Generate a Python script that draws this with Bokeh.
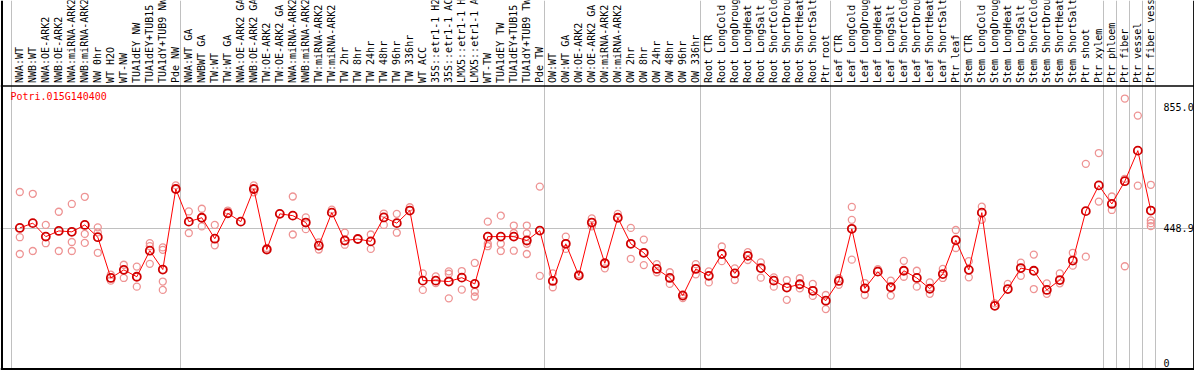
from math import pi
from bokeh.plotting import figure
from bokeh.models import Range1d, Grid, FixedTicker, Span
from bokeh.core.properties import value
from bokeh.embed import file_html
from bokeh.resources import INLINE

gene = "Potri.015G140400"

categories = [
    "NWA:WT", "NWB:WT", "NWA:OE-ARK2", "NWB:OE-ARK2", "NWA:miRNA-ARK2", "NWB:miRNA-ARK2",
    "NW 0hr", "WT H2O", "WT-NW", "TUA1dEY NW", "TUA1dEY+TUB15 NW", "TUA1dY+TUB9 NW", "Pde NW",
    "NWA:WT GA", "NWBWT GA", "TW:WT", "TW:WT GA", "NWA:OE-ARK2 GA", "NWB:OE-ARK2 GA",
    "TW:OE-ARK2", "TW:OE-ARK2 GA", "NWA:miRNA-ARK2 GA", "NWB:miRNA-ARK2 GA", "TW:miRNA-ARK2",
    "TW:miRNA-ARK2 GA", "TW 2hr", "TW 8hr", "TW 24hr", "TW 48hr", "TW 96hr", "TW 336hr",
    "WT ACC", "35S::etr1-1 H2O", "35S::etr1-1 ACC", "LMX5::etr1-1 H2O", "LMX5::etr1-1 ACC",
    "WT-TW", "TUA1dEY TW", "TUA1dEY+TUB15 TW", "TUA1dY+TUB9 TW", "Pde TW",
    "OW:WT", "OW:WT GA", "OW:OE-ARK2", "OW:OE-ARK2 GA", "OW:miRNA-ARK2", "OW:miRNA-ARK2 GA",
    "OW 2hr", "OW 8hr", "OW 24hr", "OW 48hr", "OW 96hr", "OW 336hr",
    "Root CTR", "Root LongCold", "Root LongDrought", "Root LongHeat", "Root LongSalt",
    "Root ShortCold", "Root ShortDrought", "Root ShortHeat", "Root ShortSalt", "Ptr root",
    "Leaf CTR", "Leaf LongCold", "Leaf LongDrought", "Leaf LongHeat", "Leaf LongSalt",
    "Leaf ShortCold", "Leaf ShortDrought", "Leaf ShortHeat", "Leaf ShortSalt", "Ptr leaf",
    "Stem CTR", "Stem LongCold", "Stem LongDrought", "Stem LongHeat", "Stem LongSalt",
    "Stem ShortCold", "Stem ShortDrought", "Stem ShortHeat", "Stem ShortSalt", "Ptr shoot",
    "Ptr xylem", "Ptr phloem", "Ptr fiber", "Ptr vessel", "Ptr fiber vessel",
]

means = [
    450, 466, 421, 440, 437, 460, 419, 283, 310, 287, 374, 311, 580,
    471, 484, 414, 499, 471, 580, 378, 497, 491, 468, 391, 501, 408, 413, 405, 485, 466, 508,
    274, 274, 271, 284, 263, 421, 421, 421, 408, 441,
    273, 397, 291, 468, 332, 484, 397, 367, 313, 283, 224, 313,
    290, 363, 298, 357, 316, 274, 251, 262, 240, 207,
    273, 447, 248, 304, 252, 307, 283, 247, 296, 409,
    310, 501, 190, 246, 316, 307, 243, 276, 341, 506, 592,
    530, 606, 708, 508,
]

replicates = [
    [570, 419, 363], [564, 373], [460, 399], [504, 373], [530, 403, 373], [554, 430, 400],
    [452, 435, 367], [294, 274], [327, 283], [321, 254], [399, 389, 330], [385, 377, 271, 243],
    [592],
    [505, 433], [514, 455], [460, 392], [508], [], [592, 569], [383], [], [555, 428],
    [485, 446], [402, 378], [511], [434, 394], [], [428, 380], [498, 460], [497, 434], [519],
    [298, 243], [288, 266], [305, 297, 215], [306, 244], [333, 237, 221],
    [471, 397, 389], [491, 397, 373], [458, 433, 374], [458, 432, 397, 363], [588, 290],
    [298, 252], [421, 380], [296], [482, 455], [315], [497], [450, 347], [411, 326],
    [329, 302], [302, 263], [228, 216], [329, 295],
    [305, 268], [388, 339], [315, 276], [369, 343], [335, 284], [285, 254], [276, 210],
    [282, 248], [263, 223], [226, 179],
    [282, 260], [520, 477, 344], [266, 226], [312], [274, 224], [340, 287], [307, 254],
    [268, 230], [313, 283], [443, 383],
    [339, 285], [521, 477], [198], [263], [334, 290], [361, 246], [265, 230], [298, 265],
    [367, 324], [664, 354], [700, 538],
    [555, 510], [614, 882, 322], [825, 591], [594, 475, 466, 456],
]

group_starts = [0, 13, 41, 53, 63, 73, 84, 85, 86, 87, 88]
ytick_values = [0, 448.9, 855.0]
ytick_labels = ["0", "448.9", "855.0"]

# layout constants (data-space positions of the frame pieces)
X_START, X_END = -1.485, 90.36
Y_START, Y_END = -26.0, 1209.3
PLOT_TOP = 923.9      # separator line between label band and plot
PLOT_BOTTOM = -21.0   # bottom border
LEFT_EDGE, RIGHT_EDGE = -1.37, 90.33
MONO = "DejaVu Sans Mono"

p = figure(width=1194, height=370, output_backend="svg", toolbar_location=None,
           x_range=Range1d(X_START, X_END), y_range=Range1d(Y_START, Y_END),
           x_axis_location=None, y_axis_location=None,
           min_border_left=0, min_border_right=0, min_border_top=0, min_border_bottom=0)
p.outline_line_color = None
p.background_fill_color = "white"
p.border_fill_color = "white"
for g in p.grid:
    g.visible = False

p.add_layout(Grid(dimension=0, ticker=FixedTicker(ticks=[k - 0.62 for k in group_starts]),
                  grid_line_color="#c0c0c0", grid_line_width=1))
p.add_layout(Grid(dimension=1, ticker=FixedTicker(ticks=[ytick_values[1]]),
                  grid_line_color="#c0c0c0", grid_line_width=1))

# frame borders
p.add_layout(Span(location=LEFT_EDGE, dimension="height", line_color="black", line_width=2))
p.add_layout(Span(location=RIGHT_EDGE, dimension="height", line_color="black", line_width=2))
p.add_layout(Span(location=PLOT_TOP, dimension="width", line_color="black", line_width=1.5))
p.add_layout(Span(location=PLOT_BOTTOM, dimension="width", line_color="black", line_width=2))

xs = list(range(len(categories)))
rx, ry = [], []
for i, reps in enumerate(replicates):
    for v in reps:
        rx.append(i)
        ry.append(v)

p.scatter(rx, ry, marker="circle", size=7, fill_color=None, line_color="#ee9494", line_width=1.3)
p.line(xs, means, line_color="red", line_width=1)
p.scatter(xs, means, marker="circle", size=8, fill_color=None, line_color="#d00000", line_width=1.8)

# value labels inside the plot, right side
p.text(x=[87.98] * 3, y=ytick_values, text=ytick_labels, text_align="left",
       text_baseline="middle", text_font=value(MONO), text_font_size="10px", text_color="black")

# gene name
p.text(x=[X_START], y=[PLOT_TOP], text=[gene], x_offset=10, y_offset=5,
       text_align="left", text_baseline="top", text_font=value(MONO),
       text_font_size="10px", text_color="red")

# rotated category labels in the band above the plot
p.text(x=xs, y=[PLOT_TOP] * len(xs), text=categories, angle=pi / 2, y_offset=-3,
       text_align="left", text_baseline="middle", text_font=value(MONO),
       text_font_size="10px", text_color="black")

open("out.html", "w").write(file_html(p, INLINE))
